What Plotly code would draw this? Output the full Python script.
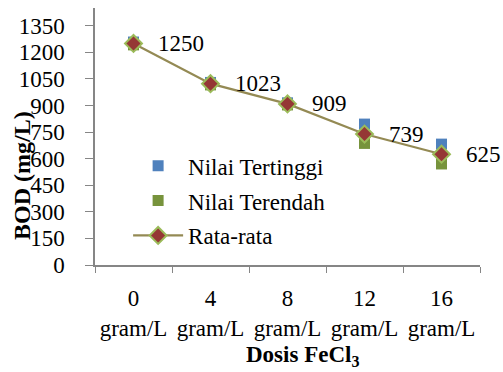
import plotly.graph_objects as go

# FeCl3 dose categories and BOD measurements (mg/L)
dosis = ["0<br>gram/L", "4<br>gram/L", "8<br>gram/L", "12<br>gram/L", "16<br>gram/L"]
nilai_tertinggi = [1258, 1030, 915, 795, 682]
nilai_terendah = [1242, 1016, 903, 686, 570]
rata_rata = [1250, 1023, 909, 739, 625]
y_ticks = [0, 150, 300, 450, 600, 750, 900, 1050, 1200, 1350]

FONT = "Liberation Serif, Times New Roman, serif"
AXIS_GREY = "#868686"

fig = go.Figure()

fig.add_trace(go.Scatter(
    x=dosis, y=nilai_tertinggi, mode="markers", name="Nilai Tertinggi",
    legendgroup="a",
    marker=dict(symbol="square", size=11, color="#4F81BD"),
))
fig.add_trace(go.Scatter(
    x=dosis, y=nilai_terendah, mode="markers", name="Nilai Terendah",
    legendgroup="b",
    marker=dict(symbol="square", size=11, color="#77933C"),
))
fig.add_trace(go.Scatter(
    x=dosis, y=rata_rata, mode="lines+markers", name="Rata-rata",
    legendgroup="c",
    line=dict(color="#948A54", width=2.2),
    marker=dict(symbol="diamond", size=13, color="#953735",
                line=dict(color="#9BBB59", width=2)),
))

# value labels next to each mean point
for cat, val in zip(dosis, rata_rata):
    fig.add_annotation(
        x=cat, y=val, text=str(val), showarrow=False,
        xanchor="left", yanchor="middle", xshift=22,
        font=dict(family=FONT, size=23, color="black"),
    )

# axis titles
fig.add_annotation(
    xref="paper", yref="paper", x=-0.19, y=0.35,
    text="<b>BOD (mg/L)</b>", textangle=-90, showarrow=False,
    xanchor="center", yanchor="middle",
    font=dict(family=FONT, size=24, color="black"),
)
fig.add_annotation(
    xref="paper", yref="paper", x=0.54, y=-0.355,
    text="<b>Dosis FeCl<sub>3</sub></b>", showarrow=False,
    xanchor="center", yanchor="middle",
    font=dict(family=FONT, size=23, color="black"),
)

fig.update_layout(
    width=503, height=372,
    margin=dict(l=95, r=23, t=8, b=107),
    paper_bgcolor="white", plot_bgcolor="white",
    font=dict(family=FONT, size=23, color="black"),
    showlegend=True,
    legend=dict(
        x=0.086, y=0.47, xanchor="left", yanchor="top",
        bgcolor="rgba(0,0,0,0)", tracegroupgap=2,
        font=dict(family=FONT, size=23, color="black"),
        itemwidth=50,
    ),
    xaxis=dict(
        type="category", range=[-0.5, 4.5],
        showline=True, linecolor=AXIS_GREY, linewidth=1.5,
        ticks="outside", tickson="boundaries", ticklen=6, tickcolor=AXIS_GREY,
        showgrid=False, zeroline=False, ticklabelstandoff=12,
    ),
    yaxis=dict(
        range=[0, 1450], tickvals=y_ticks,
        showline=True, linecolor=AXIS_GREY, linewidth=1.5,
        ticks="outside", ticklen=8, tickcolor=AXIS_GREY,
        showgrid=False, zeroline=False, ticklabelstandoff=16,
    ),
)

fig.write_html("out.html")
